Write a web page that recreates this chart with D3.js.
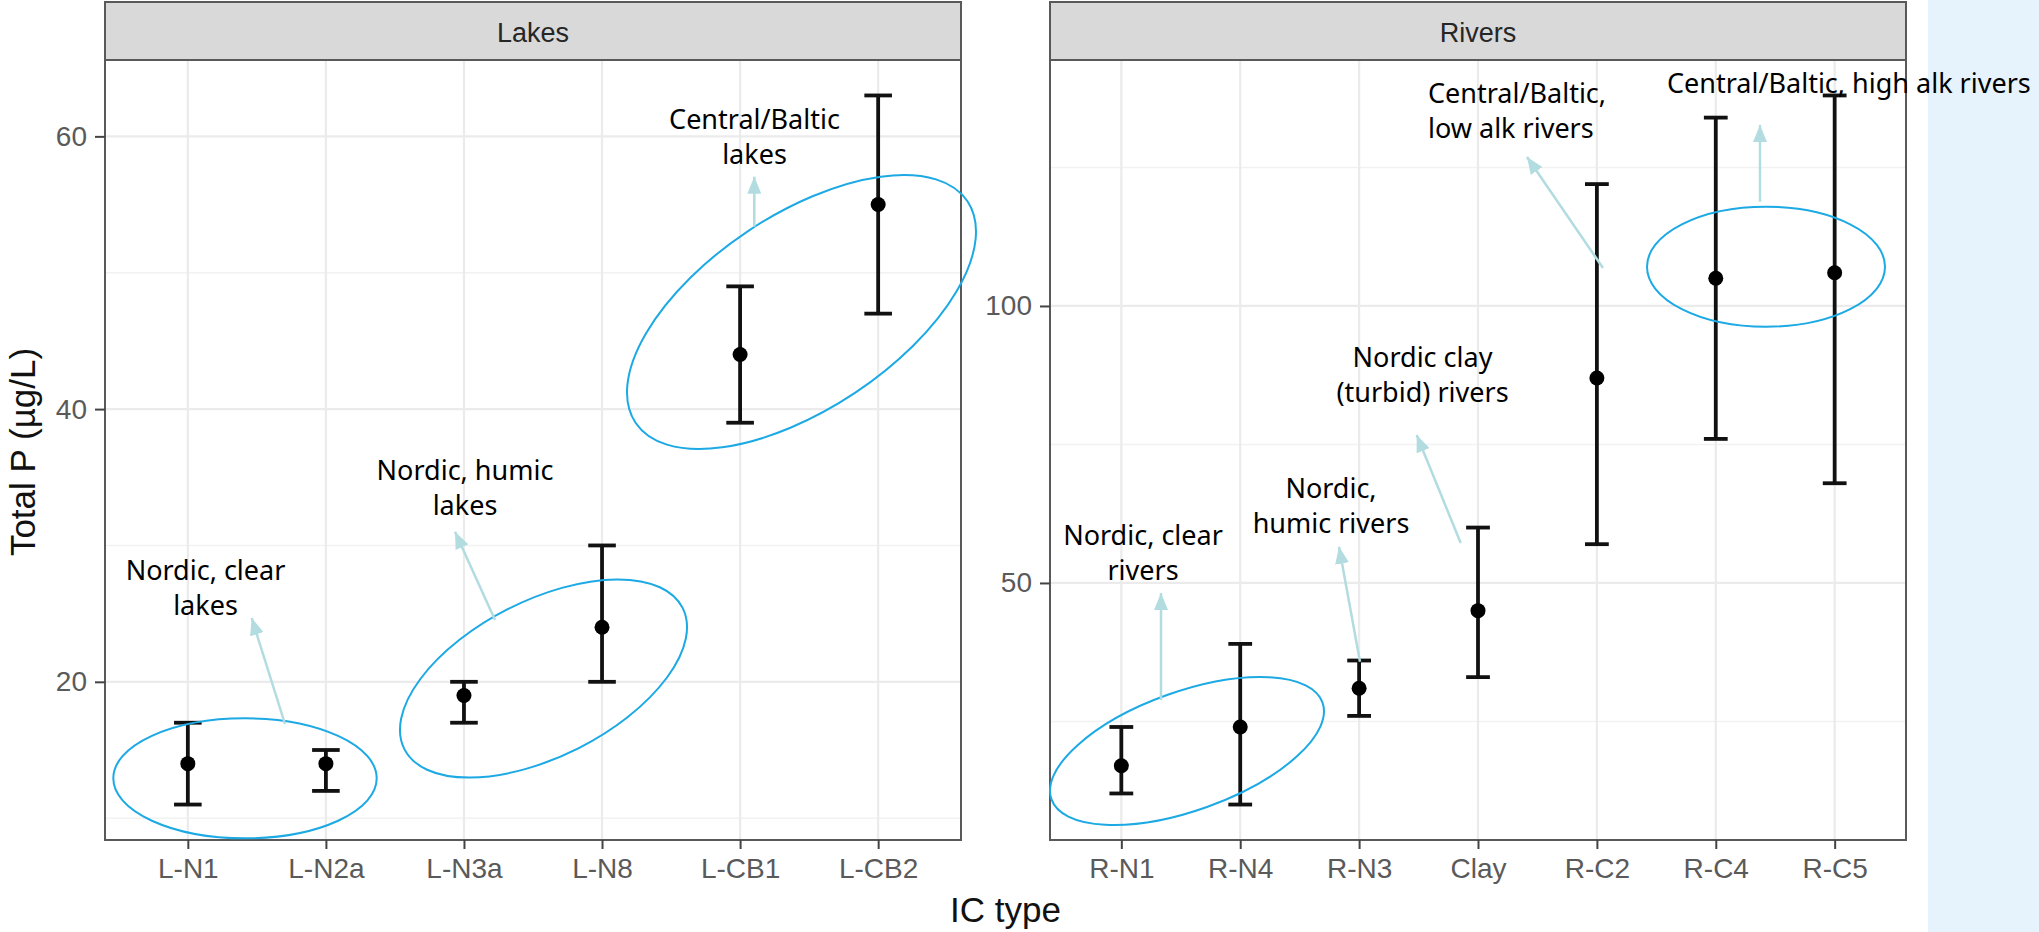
<!DOCTYPE html>
<html>
<head>
<meta charset="utf-8">
<script src="https://cdn.jsdelivr.net/npm/d3@7"></script>
<style>
  html, body { margin: 0; padding: 0; background: #fff; }
  svg { display: block; }
</style>
</head>
<body>
<div id="chart"></div>
<script>

// Data: mean and interval for each IC type
var lakeTypes = ['L-N1', 'L-N2a', 'L-N3a', 'L-N8', 'L-CB1', 'L-CB2'];
var lakeMean  = [14, 14, 19, 24, 44, 55];
var lakeLow   = [11, 12, 17, 20, 39, 47];
var lakeHigh  = [17, 15, 20, 30, 49, 63];

var riverTypes = ['R-N1', 'R-N4', 'R-N3', 'Clay', 'R-C2', 'R-C4', 'R-C5'];
var riverMean  = [17, 24, 31, 45, 87, 105, 106];
var riverLow   = [12, 10, 26, 33, 57, 76, 68];
var riverHigh  = [24, 39, 36, 60, 122, 134, 138];

var lakeTicks  = [20, 40, 60];
var lakeMinor  = [10, 30, 50];
var riverTicks = [50, 100];
var riverMinor = [25, 75, 125];

var panelNames = ['Lakes', 'Rivers'];

// Annotation labels (added on top of the plot)
var noteText = [
  ['Nordic, clear', 'lakes'],
  ['Nordic, humic', 'lakes'],
  ['Central/Baltic', 'lakes'],
  ['Nordic, clear', 'rivers'],
  ['Nordic,', 'humic rivers'],
  ['Nordic clay', '(turbid) rivers'],
  ['Central/Baltic,', 'low alk rivers'],
  ['Central/Baltic, high alk rivers']
];


var width = 2039, height = 932;
var plotTop = 60, plotBottom = 840, stripTop = 2;

var svg = d3.select('#chart').append('svg')
  .attr('width', width)
  .attr('height', height);

// light blue side band
svg.append('rect')
  .attr('x', 1928).attr('y', 0)
  .attr('width', width - 1928).attr('height', height)
  .attr('fill', '#E7F3FC');

var panels = [
  { name: panelNames[0], types: lakeTypes, mean: lakeMean, low: lakeLow, high: lakeHigh,
    major: lakeTicks, minor: lakeMinor, x0: 105, x1: 961 },
  { name: panelNames[1], types: riverTypes, mean: riverMean, low: riverLow, high: riverHigh,
    major: riverTicks, minor: riverMinor, x0: 1050, x1: 1906 }
];

panels.forEach(function(p) {

  var x = d3.scalePoint()
    .domain(p.types)
    .range([p.x0, p.x1])
    .padding(0.6);

  var lo = d3.min(p.low), hi = d3.max(p.high), pad = (hi - lo) * 0.05;
  var y = d3.scaleLinear()
    .domain([lo - pad, hi + pad])
    .range([plotBottom, plotTop]);

  var g = svg.append('g');

  // grid
  g.selectAll('.minor').data(p.minor).enter().append('line')
    .attr('x1', p.x0).attr('x2', p.x1)
    .attr('y1', function(d){ return y(d); }).attr('y2', function(d){ return y(d); })
    .attr('stroke', '#F2F2F2').attr('stroke-width', 1.5);

  g.selectAll('.hmajor').data(p.major).enter().append('line')
    .attr('x1', p.x0).attr('x2', p.x1)
    .attr('y1', function(d){ return y(d); }).attr('y2', function(d){ return y(d); })
    .attr('stroke', '#EBEBEB').attr('stroke-width', 2.2);

  g.selectAll('.vmajor').data(p.types).enter().append('line')
    .attr('x1', function(d){ return x(d); }).attr('x2', function(d){ return x(d); })
    .attr('y1', plotTop).attr('y2', plotBottom)
    .attr('stroke', '#EBEBEB').attr('stroke-width', 2.2);

  // error bars
  var capW = x.step() * 0.2;
  var bars = g.selectAll('.bar').data(p.types).enter().append('g');

  bars.append('line')
    .attr('x1', function(d){ return x(d); }).attr('x2', function(d){ return x(d); })
    .attr('y1', function(d, i){ return y(p.low[i]); })
    .attr('y2', function(d, i){ return y(p.high[i]); })
    .attr('stroke', '#111').attr('stroke-width', 3.8);

  bars.append('line')
    .attr('x1', function(d){ return x(d) - capW / 2; }).attr('x2', function(d){ return x(d) + capW / 2; })
    .attr('y1', function(d, i){ return y(p.low[i]); })
    .attr('y2', function(d, i){ return y(p.low[i]); })
    .attr('stroke', '#111').attr('stroke-width', 3.8);

  bars.append('line')
    .attr('x1', function(d){ return x(d) - capW / 2; }).attr('x2', function(d){ return x(d) + capW / 2; })
    .attr('y1', function(d, i){ return y(p.high[i]); })
    .attr('y2', function(d, i){ return y(p.high[i]); })
    .attr('stroke', '#111').attr('stroke-width', 3.8);

  bars.append('circle')
    .attr('cx', function(d){ return x(d); })
    .attr('cy', function(d, i){ return y(p.mean[i]); })
    .attr('r', 7.5)
    .attr('fill', '#000');

  // panel border
  g.append('rect')
    .attr('x', p.x0).attr('y', plotTop)
    .attr('width', p.x1 - p.x0).attr('height', plotBottom - plotTop)
    .attr('fill', 'none').attr('stroke', '#595959').attr('stroke-width', 2);

  // strip
  g.append('rect')
    .attr('x', p.x0).attr('y', stripTop)
    .attr('width', p.x1 - p.x0).attr('height', plotTop - stripTop)
    .attr('fill', '#D9D9D9').attr('stroke', '#595959').attr('stroke-width', 2);

  g.append('text')
    .attr('x', (p.x0 + p.x1) / 2).attr('y', 41.5)
    .attr('text-anchor', 'middle')
    .style('font-family', 'Liberation Sans, Arial, sans-serif')
    .style('font-size', '27px')
    .attr('fill', '#262626')
    .text(p.name);

  // axes
  var yAxis = g.append('g')
    .attr('transform', 'translate(' + p.x0 + ',0)')
    .call(d3.axisLeft(y).tickValues(p.major).tickSize(10).tickPadding(8));

  var xAxis = g.append('g')
    .attr('transform', 'translate(0,' + plotBottom + ')')
    .call(d3.axisBottom(x).tickSize(9).tickPadding(9));

  [yAxis, xAxis].forEach(function(a) {
    a.select('.domain').remove();
    a.selectAll('.tick line').attr('stroke', '#444').attr('stroke-width', 2);
    a.selectAll('.tick text')
      .style('font-family', 'Liberation Sans, Arial, sans-serif')
      .style('font-size', '28px')
      .attr('fill', '#5a5a5a');
  });
});

// axis titles
svg.append('text')
  .attr('x', 1005.5).attr('y', 921.5)
  .attr('text-anchor', 'middle')
  .style('font-family', 'Liberation Sans, Arial, sans-serif')
  .style('font-size', '35px')
  .attr('fill', '#111')
  .text('IC type');

svg.append('text')
  .attr('transform', 'translate(35,452) rotate(-90)')
  .attr('text-anchor', 'middle')
  .style('font-family', 'Liberation Sans, Arial, sans-serif')
  .style('font-size', '35px')
  .attr('fill', '#111')
  .text('Total P (µg/L)');


// Annotation layout (pixels)
var notePos = [
  [205.5, 580, 'middle'],
  [465, 480, 'middle'],
  [754.5, 129, 'middle'],
  [1143, 545, 'middle'],
  [1331, 498.3, 'middle'],
  [1422.5, 367, 'middle'],
  [1428, 103, 'start'],
  [1667, 93.3, 'start']
];

var arrows = [
  [285, 724, 251.7, 618],
  [495, 620, 455, 531.7],
  [754.3, 226.7, 754.3, 176.7],
  [1161, 700, 1161, 593],
  [1360, 661.7, 1339, 546.7],
  [1460.7, 543, 1416.7, 435],
  [1603, 268, 1527, 157],
  [1760, 201.7, 1760, 125]
];

var ellipses = [
  [245, 778.3, 131.7, 60, 0],
  [543.5, 678.5, 156, 78, -26.9],
  [801.5, 312, 199.5, 97, -33.7],
  [1187, 751, 143.9, 59.4, -19.65],
  [1766, 266.7, 119, 60, 0]
];

svg.append('defs').append('marker')
  .attr('id', 'head')
  .attr('markerUnits', 'userSpaceOnUse')
  .attr('markerWidth', 17).attr('markerHeight', 14)
  .attr('refX', 17).attr('refY', 7)
  .attr('orient', 'auto')
  .append('path')
  .attr('d', 'M0,0 L17,7 L0,14 Z')
  .attr('fill', '#B2DCE0');

svg.selectAll('.ell').data(ellipses).enter().append('ellipse')
  .attr('cx', 0).attr('cy', 0)
  .attr('rx', function(d){ return d[2]; })
  .attr('ry', function(d){ return d[3]; })
  .attr('transform', function(d){ return 'translate(' + d[0] + ',' + d[1] + ') rotate(' + d[4] + ')'; })
  .attr('fill', 'none')
  .attr('stroke', '#1CA9E4')
  .attr('stroke-width', 2);

svg.selectAll('.arrow').data(arrows).enter().append('line')
  .attr('x1', function(d){ return d[0]; }).attr('y1', function(d){ return d[1]; })
  .attr('x2', function(d){ return d[2]; }).attr('y2', function(d){ return d[3]; })
  .attr('stroke', '#B2DCE0').attr('stroke-width', 2.5)
  .attr('marker-end', 'url(#head)');

var notes = svg.selectAll('.note').data(noteText).enter().append('text')
  .attr('text-anchor', function(d, i){ return notePos[i][2]; })
  .style('font-family', 'Noto Sans, Open Sans, sans-serif')
  .style('font-size', '27px')
  .attr('fill', '#000');

notes.each(function(d, i) {
  var t = d3.select(this);
  d.forEach(function(line, j) {
    t.append('tspan')
      .attr('x', notePos[i][0])
      .attr('y', notePos[i][1] + j * 34.5)
      .text(line);
  });
});

</script>
</body>
</html>
